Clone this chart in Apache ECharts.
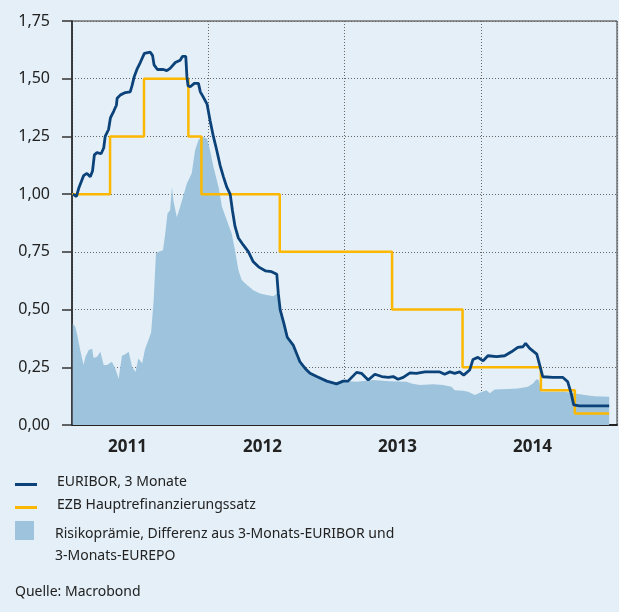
<!DOCTYPE html>
<html>
<head>
<meta charset="utf-8">
<script src="https://cdn.jsdelivr.net/npm/echarts@6/dist/echarts.min.js"></script>
<style>
html,body{margin:0;padding:0;background:#e4eff7}
#main{width:619px;height:612px}
</style>
</head>
<body>
<div id="main"></div>
<script>
// EURIBOR 3 Monate
var euriborDates = ['2011-01-03','2011-01-13','2011-01-19','2011-02-01','2011-02-10','2011-02-19','2011-02-25','2011-03-02','2011-03-09','2011-03-20','2011-03-27','2011-03-31','2011-04-09','2011-04-14','2011-04-23','2011-04-30','2011-05-02','2011-05-11','2011-05-24','2011-06-06','2011-06-11','2011-06-17','2011-06-24','2011-07-03','2011-07-14','2011-07-30','2011-08-05','2011-08-09','2011-08-18','2011-09-03','2011-09-12','2011-09-21','2011-10-05','2011-10-18','2011-10-24','2011-11-02','2011-11-05','2011-11-08','2011-11-14','2011-11-25','2011-12-06','2011-12-11','2011-12-19','2011-12-29',
  '2012-01-06','2012-01-15','2012-01-24','2012-02-02','2012-02-11','2012-02-20','2012-02-29','2012-03-06','2012-03-13','2012-03-22','2012-04-04','2012-04-18','2012-05-01','2012-05-15','2012-06-02','2012-06-19','2012-07-03','2012-07-07','2012-07-12','2012-07-22','2012-07-31','2012-08-16','2012-08-25','2012-09-03','2012-09-17','2012-09-30','2012-10-18','2012-11-14','2012-12-10','2012-12-28',
  '2013-01-10','2013-02-02','2013-02-15','2013-03-05','2013-03-23','2013-04-10','2013-04-28','2013-05-11','2013-05-24','2013-06-07','2013-06-25','2013-07-12','2013-08-04','2013-09-13','2013-09-26','2013-10-10','2013-10-23','2013-11-05','2013-11-16','2013-12-02','2013-12-11','2013-12-24',
  '2014-01-07','2014-01-20','2014-02-12','2014-03-06','2014-03-24','2014-04-10','2014-04-24','2014-05-01','2014-05-12','2014-05-31','2014-06-09','2014-06-16','2014-07-13','2014-08-09','2014-08-22','2014-08-31','2014-09-07','2014-09-22','2014-12-11'];
var euriborValues = [1.00,0.99,1.025,1.08,1.09,1.075,1.10,1.17,1.18,1.175,1.20,1.25,1.28,1.33,1.36,1.385,1.415,1.43,1.44,1.443,1.47,1.51,1.54,1.57,1.61,1.615,1.60,1.56,1.54,1.54,1.535,1.545,1.57,1.58,1.597,1.597,1.51,1.47,1.465,1.48,1.48,1.443,1.42,1.39,
  1.32,1.25,1.19,1.125,1.075,1.03,1.00,0.93,0.86,0.81,0.78,0.75,0.707,0.685,0.668,0.664,0.653,0.57,0.50,0.44,0.38,0.346,0.31,0.274,0.245,0.224,0.21,0.19,0.178,0.19,
  0.19,0.228,0.224,0.195,0.22,0.21,0.206,0.21,0.198,0.206,0.226,0.224,0.23,0.23,0.22,0.23,0.224,0.23,0.216,0.238,0.284,0.293,
  0.278,0.30,0.296,0.30,0.317,0.336,0.339,0.354,0.332,0.307,0.252,0.209,0.206,0.206,0.187,0.137,0.087,0.083,0.083];

// EZB Hauptrefinanzierungssatz
var ecbDates = ['2011-01-01','2011-04-13','2011-07-13','2011-11-09','2011-12-14','2012-07-11','2013-05-08','2013-11-13','2014-06-11','2014-09-10','2014-12-11'];
var ecbValues = [1.00,1.25,1.50,1.25,1.00,0.75,0.50,0.25,0.15,0.05,0.05];

// Risikoprämie (EURIBOR - EUREPO)
var spreadDates = ['2011-01-03','2011-01-10','2011-01-15','2011-01-23','2011-02-01','2011-02-06','2011-02-15','2011-02-24','2011-02-28','2011-03-09','2011-03-18','2011-03-27','2011-04-05','2011-04-18','2011-04-27','2011-05-06','2011-05-15','2011-05-24','2011-06-02','2011-06-11','2011-06-20','2011-06-28','2011-07-08','2011-07-16','2011-07-25','2011-08-01','2011-08-08','2011-08-14','2011-08-21','2011-09-02','2011-09-08','2011-09-14','2011-09-21','2011-09-26','2011-09-30','2011-10-09','2011-10-18','2011-11-05','2011-11-18','2011-11-27','2011-12-06','2011-12-16','2011-12-29',
  '2012-01-06','2012-01-15','2012-01-29','2012-02-07','2012-02-20','2012-03-04','2012-03-13','2012-03-22','2012-03-31','2012-04-14','2012-05-01','2012-05-19','2012-06-06','2012-06-24','2012-07-03','2012-07-12','2012-07-30','2012-08-25','2012-09-21','2012-10-27','2012-12-10',
  '2013-01-15','2013-02-02','2013-03-18','2013-05-02','2013-06-16','2013-06-29','2013-07-21','2013-08-26','2013-09-22','2013-10-14','2013-10-23','2013-11-14','2013-11-28','2013-12-16','2013-12-29',
  '2014-01-16','2014-01-25','2014-02-07','2014-03-15','2014-04-10','2014-05-07','2014-05-21','2014-05-30','2014-06-05','2014-06-12','2014-08-13','2014-10-06','2014-11-02','2014-12-11'];
var spreadValues = [0.44,0.425,0.39,0.325,0.26,0.296,0.325,0.33,0.29,0.296,0.317,0.26,0.26,0.274,0.245,0.20,0.30,0.307,0.317,0.252,0.23,0.288,0.267,0.33,0.368,0.40,0.54,0.743,0.75,0.757,0.83,0.916,0.93,1.03,0.97,0.90,0.945,1.046,1.09,1.19,1.234,1.25,1.24,
  1.19,1.12,1.03,0.945,0.887,0.83,0.757,0.671,0.628,0.606,0.584,0.57,0.563,0.558,0.57,0.50,0.40,0.296,0.238,0.202,0.18,
  0.19,0.187,0.195,0.19,0.187,0.18,0.173,0.177,0.173,0.166,0.15,0.148,0.144,0.13,0.14,
  0.15,0.137,0.154,0.156,0.158,0.166,0.18,0.198,0.195,0.144,0.144,0.13,0.125,0.122];

var yearLabels = ['2011','2012','2013','2014'];

var navy = '#0a4279';
var gold = '#fcb800';
var sky = '#9dc4dc';
var ink = '#222';
var legendFont = '14px "Noto Sans"';

function pairs(d, v) {
  var out = [];
  for (var i = 0; i < d.length; i++) out.push([d[i], v[i]]);
  return out;
}

var myChart = echarts.init(document.getElementById('main'));
var option = {
  backgroundColor: '#e4eff7',
  animation: false,
  grid: [
    {left: 72, right: 2, top: 21, bottom: 187, show: true, borderColor: '#333', borderWidth: 1},
    {left: 60, right: 19, top: 425, height: 1}
  ],
  xAxis: [
    {
      type: 'time',
      gridIndex: 0,
      min: '2011-01-01',
      max: '2015-01-01',
      minInterval: 365 * 24 * 3600 * 1000,
      axisLine: {show: true, lineStyle: {color: ink, width: 2}},
      axisTick: {show: false},
      axisLabel: {show: false},
      splitLine: {show: true, lineStyle: {color: '#666', type: [1, 2], width: 1}}
    },
    {
      type: 'category',
      gridIndex: 1,
      data: yearLabels,
      axisLine: {show: false},
      axisTick: {show: false},
      axisLabel: {fontFamily: 'Noto Sans', fontWeight: 'bold', fontSize: 17, color: ink, margin: 13}
    }
  ],
  yAxis: [
    {
      type: 'value',
      gridIndex: 0,
      min: 0,
      max: 1.75,
      interval: 0.25,
      axisLine: {show: true, lineStyle: {color: ink, width: 1.5}},
      axisTick: {show: true, length: 10, lineStyle: {color: '#333', width: 1.5}},
      axisLabel: {
        fontFamily: 'Noto Sans', fontSize: 16, color: ink, margin: 22,
        formatter: function (v) { return v.toFixed(2).replace('.', ','); }
      },
      splitLine: {show: true, lineStyle: {color: '#666', type: [1, 2], width: 1}}
    },
    {type: 'value', gridIndex: 1, show: false}
  ],
  series: [
    {
      name: 'Risikoprämie',
      type: 'line',
      data: pairs(spreadDates, spreadValues),
      showSymbol: false,
      lineStyle: {width: 0},
      areaStyle: {color: sky, opacity: 1},
      z: 2
    },
    {
      name: 'EZB Hauptrefinanzierungssatz',
      type: 'line',
      step: 'end',
      data: pairs(ecbDates, ecbValues),
      showSymbol: false,
      lineStyle: {color: gold, width: 2.5},
      z: 3
    },
    {
      name: 'EURIBOR, 3 Monate',
      type: 'line',
      data: pairs(euriborDates, euriborValues),
      showSymbol: false,
      lineStyle: {color: navy, width: 2.8},
      z: 4
    }
  ],
  graphic: [
    {type: 'rect', left: 15, top: 483, shape: {width: 22, height: 3}, style: {fill: navy}},
    {type: 'text', left: 57, top: 475, style: {text: 'EURIBOR, 3 Monate', font: legendFont, fill: ink}},
    {type: 'rect', left: 15, top: 506, shape: {width: 22, height: 3}, style: {fill: gold}},
    {type: 'text', left: 57, top: 498, style: {text: 'EZB Hauptrefinanzierungssatz', font: legendFont, fill: ink}},
    {type: 'rect', left: 15, top: 521, shape: {width: 19, height: 19}, style: {fill: sky}},
    {type: 'text', left: 55, top: 527, style: {text: 'Risikoprämie, Differenz aus 3-Monats-EURIBOR und', font: legendFont, fill: ink}},
    {type: 'text', left: 55, top: 549, style: {text: '3-Monats-EUREPO', font: legendFont, fill: ink}},
    {type: 'text', left: 15, top: 585, style: {text: 'Quelle: Macrobond', font: legendFont, fill: ink}}
  ]
};
myChart.setOption(option);
</script>
</body>
</html>
